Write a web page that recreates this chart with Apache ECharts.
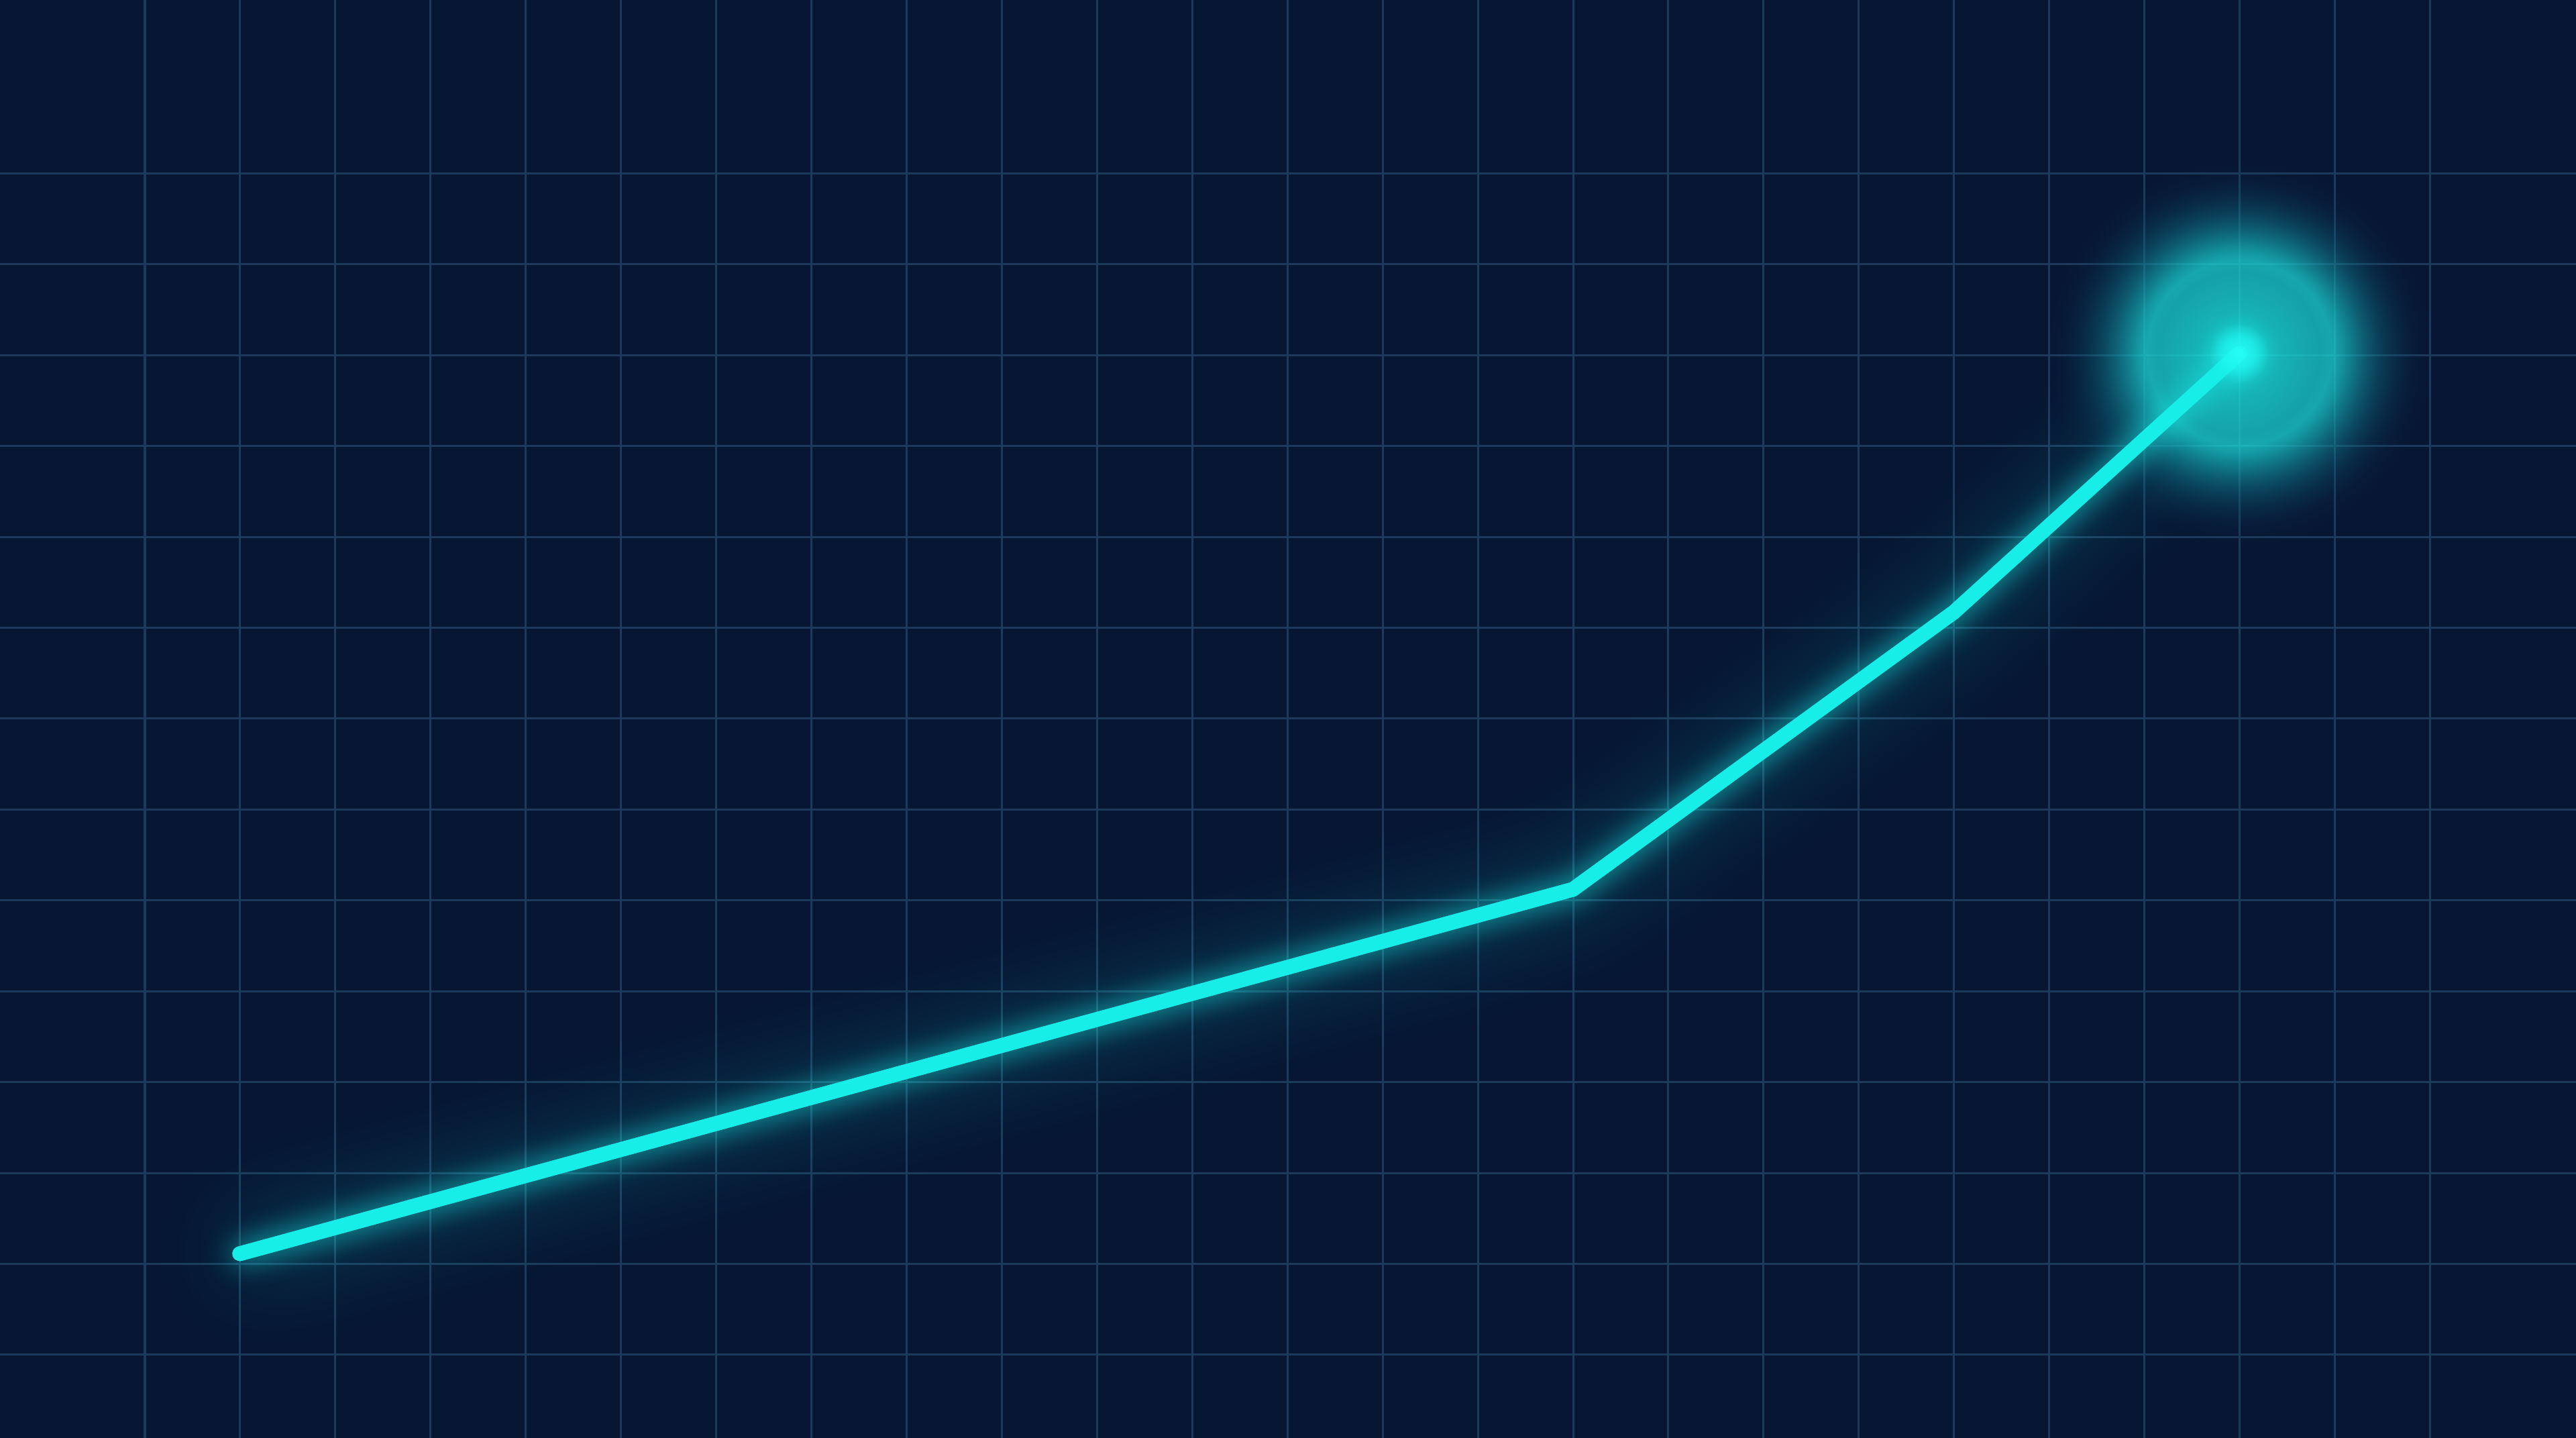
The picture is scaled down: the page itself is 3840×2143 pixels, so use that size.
<!DOCTYPE html>
<html>
<head>
<meta charset="utf-8">
<title>Glowing growth line</title>
<script src="https://cdn.jsdelivr.net/npm/echarts@6/dist/echarts.min.js"></script>
<style>
  html, body { margin: 0; padding: 0; background: #071633; overflow: hidden; }
  #chart { width: 3840px; height: 2143px; }
</style>
</head>
<body>
<div id="chart"></div>
<script>
// x = grid column the point sits on, y = height in grid rows (0 = bottom grid line)
const steps = [1, 15, 19, 22];
const values = [1.11, 5.12, 8.17, 11.02];
const columnCount = 24;
const rowCount = 13;

const points = steps.map((s, i) => [s, values[i]]);
const lastPoint = points[points.length - 1];

const gridColor = "#1c3b5c";
const lineColor = "#17eee8";

const chart = echarts.init(document.getElementById("chart"));

const hidden = { show: false };

chart.setOption({
  backgroundColor: "#071633",
  animation: false,
  grid: [
    // vertical grid lines, full height
    { left: 215.5, right: 217.7, top: 0, bottom: 0, outerBoundsMode: "none", containLabel: false },
    // horizontal grid lines, full width
    { left: 0, right: 0, top: 258.3, bottom: 124.4, outerBoundsMode: "none", containLabel: false },
    // data
    { left: 215.5, right: 217.7, top: 258.3, bottom: 124.4, outerBoundsMode: "none", containLabel: false },
  ],
  xAxis: [
    {
      gridIndex: 0, type: "value", min: 0, max: columnCount, interval: 1,
      axisLine: hidden, axisTick: hidden, axisLabel: hidden,
      splitLine: { show: true, lineStyle: { color: gridColor, width: 3 } },
    },
    {
      gridIndex: 1, type: "value", min: 0, max: 1,
      axisLine: hidden, axisTick: hidden, axisLabel: hidden, splitLine: hidden,
    },
    {
      gridIndex: 2, type: "value", min: 0, max: columnCount,
      axisLine: hidden, axisTick: hidden, axisLabel: hidden, splitLine: hidden,
    },
  ],
  yAxis: [
    {
      // its axis line is pushed out to the left edge of the picture
      gridIndex: 0, type: "value", min: 0, max: 1, offset: 213.5,
      axisLine: { show: true, lineStyle: { color: gridColor, width: 4 } },
      axisTick: hidden, axisLabel: hidden, splitLine: hidden,
    },
    {
      gridIndex: 1, type: "value", min: 0, max: rowCount, interval: 1,
      axisLine: hidden, axisTick: hidden, axisLabel: hidden,
      splitLine: { show: true, lineStyle: { color: gridColor, width: 3 } },
    },
    {
      gridIndex: 2, type: "value", min: 0, max: rowCount,
      axisLine: hidden, axisTick: hidden, axisLabel: hidden, splitLine: hidden,
    },
  ],
  series: [
    {
      // big soft halo at the last point
      type: "scatter",
      xAxisIndex: 2,
      yAxisIndex: 2,
      data: [lastPoint],
      symbol: "circle",
      symbolSize: 600,
      silent: true,
      z: 2,
      itemStyle: {
        color: {
          type: "radial", x: 0.5, y: 0.5, r: 0.5,
          colorStops: [
            { offset: 0, color: "rgba(36,255,246,1)" },
            { offset: 0.1, color: "rgba(30,250,242,0.98)" },
            { offset: 0.2, color: "rgba(27,224,220,0.96)" },
            { offset: 0.4, color: "rgba(26,206,206,0.94)" },
            { offset: 0.46, color: "rgba(29,212,212,0.95)" },
            { offset: 0.51, color: "rgba(24,196,198,0.9)" },
            { offset: 0.58, color: "rgba(20,162,174,0.8)" },
            { offset: 0.7, color: "rgba(14,112,132,0.56)" },
            { offset: 0.83, color: "rgba(10,70,100,0.26)" },
            { offset: 0.96, color: "rgba(10,40,70,0)" },
            { offset: 1, color: "rgba(10,40,70,0)" },
          ],
        },
      },
    },
    {
      // wide soft glow under the line
      type: "line",
      xAxisIndex: 2,
      yAxisIndex: 2,
      data: points,
      showSymbol: false,
      silent: true,
      z: 2,
      lineStyle: {
        color: lineColor,
        width: 22,
        cap: "round",
        join: "round",
        shadowBlur: 130,
        shadowColor: "rgba(23,230,225,0.75)",
      },
    },
    {
      type: "line",
      xAxisIndex: 2,
      yAxisIndex: 2,
      data: points,
      showSymbol: false,
      silent: true,
      z: 3,
      lineStyle: {
        color: lineColor,
        width: 22,
        cap: "round",
        join: "round",
        shadowBlur: 40,
        shadowColor: "rgba(23,235,230,0.85)",
      },
    },
    {
      // bright core
      type: "scatter",
      xAxisIndex: 2,
      yAxisIndex: 2,
      data: [lastPoint],
      symbol: "circle",
      symbolSize: 90,
      silent: true,
      z: 4,
      itemStyle: {
        color: {
          type: "radial", x: 0.5, y: 0.5, r: 0.5,
          colorStops: [
            { offset: 0, color: "rgba(40,255,248,1)" },
            { offset: 0.5, color: "rgba(32,250,242,0.8)" },
            { offset: 1, color: "rgba(30,240,235,0)" },
          ],
        },
      },
    },
  ],
});
</script>
</body>
</html>
